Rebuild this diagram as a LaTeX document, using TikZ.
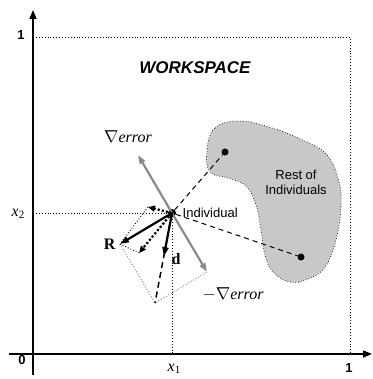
\documentclass[tikz,border=0pt]{standalone}
\usepackage{fontspec}
\setmainfont{Liberation Serif}
\setsansfont{Liberation Sans}
\usepackage{xcolor}
\usetikzlibrary{arrows.meta, positioning, calc}
\definecolor{gradgray}{HTML}{8A8A8A}
\definecolor{blobgray}{HTML}{C8C8C8}
\definecolor{guidegray}{HTML}{7A7A7A}
\tikzset{
  lbl/.style={font=\fontsize{13}{15}\selectfont\sffamily, text=black},
  tick/.style={font=\fontsize{13}{15}\selectfont\sffamily\bfseries, text=black},
  mlbl/.style={font=\fontsize{16}{18}\selectfont, text=black},
  vlbl/.style={font=\fontsize{16}{18}\selectfont\bfseries, text=black},
  axis/.style={line width=1.5pt, -{Triangle[length=9pt, width=7pt]}},
  guide/.style={dotted, line width=0.9pt},
  dot/.style={circle, fill=black, inner sep=0pt, minimum size=#1},
  dot/.default=8pt,
  grad/.style={-{Triangle[length=9pt, width=6pt]}, line width=2.2pt, color=gradgray},
  move/.style={-{Triangle[length=9pt, width=6pt]}, line width=2.2pt},
  part/.style={-{Triangle[length=7pt, width=6pt]}, line width=2.2pt, dotted},
}
\newcommand{\coordlab}[1]{\textit{x}\raisebox{-0.35ex}{\fontsize{11}{12}\selectfont #1}}
\begin{document}
\begin{tikzpicture}[x=1pt, y=-1pt]
  \useasboundingbox (0,0) rectangle (372,379);
  % rest of the population
  \draw[fill=blobgray, guide, line width=0.7pt] plot[smooth cycle, tension=0.7] coordinates {
    (207,150) (215,128) (240,121) (272,128) (298,138) (325,153) (338,178)
    (341,205) (336,240) (325,267) (308,279) (290,282) (273,272) (265,255)
    (261,230) (256,205) (246,186) (228,178) (210,172)};
  % workspace and axes
  \draw[guide] (33,37) -- (350,37) -- (350,354);
  \draw[axis] (33,375) -- (33,10);
  \draw[axis] (9,354) -- (372,354);
  \node[tick] (yone) at (21,35) {1};
  \node[tick] (xone) at (349,368) {1};
  \node[tick] (zero) at (22,360) {0};
  \node[font=\fontsize{17}{19}\selectfont\sffamily\bfseries\itshape] (ws) at (195,68) {WORKSPACE};
  % individual and projections
  \node[dot] (ind) at (172,213) {};
  \coordinate (xa) at (172,354);
  \coordinate (ya) at (33,213);
  \draw[guide] (ya) -- (ind.center) -- (xa);
  \node[mlbl] (xlab) at (174,369) {\coordlab{1}};
  \node[mlbl] (ylab) at (18,214) {\coordlab{2}};
  \node[lbl, right=3pt of ind] (indlab) {Individual};
  % others
  \node[dot=7pt] (ra) at (225,152) {};
  \node[dot=7pt] (rb) at (301,257) {};
  \draw[dashed, line width=1pt, dash pattern=on 5pt off 4pt] (ind) -- (ra);
  \draw[dashed, line width=1pt, dash pattern=on 5pt off 4pt] (ind) -- (rb);
  \node[lbl, align=center] (restlab) at (296,182) {Rest of\\Individuals};
  % vectors
  \coordinate (gup) at (138,155);
  \coordinate (gdn) at (207,272);
  \coordinate (rr) at (120,244);
  \coordinate (ss) at ($(rr)+(gdn)-(ind.center)$);
  \coordinate (pu) at (148,207);
  \coordinate (pl) at (139,253);
  \draw[guide, color=guidegray] (rr) -- (ss) -- (gdn);
  \draw[guide] (pu) -- (rr) -- (pl);
  \draw[grad] (ind.center) -- (gup);
  \draw[grad] (ind.center) -- (gdn);
  \draw[line width=1.5pt, dash pattern=on 6pt off 4pt] (ind.center) -- (ss);
  \draw[move] (ind.center) -- ($(ind.center)!0.48!(ss)$) coordinate (dd);
  \draw[move] (ind.center) -- (rr);
  \draw[part] (ind.center) -- (pu);
  \draw[part] (ind.center) -- (pl);
  \node[vlbl, left=1pt of rr] (rlab) {R};
  \node[vlbl] (dlab) at (176,259) {d};
  \node[mlbl] (glab) at (128,137) {$\nabla$\textit{error}};
  \node[mlbl] (nglab) at (233,294) {$-\nabla$\textit{error}};
\end{tikzpicture}
\end{document}
